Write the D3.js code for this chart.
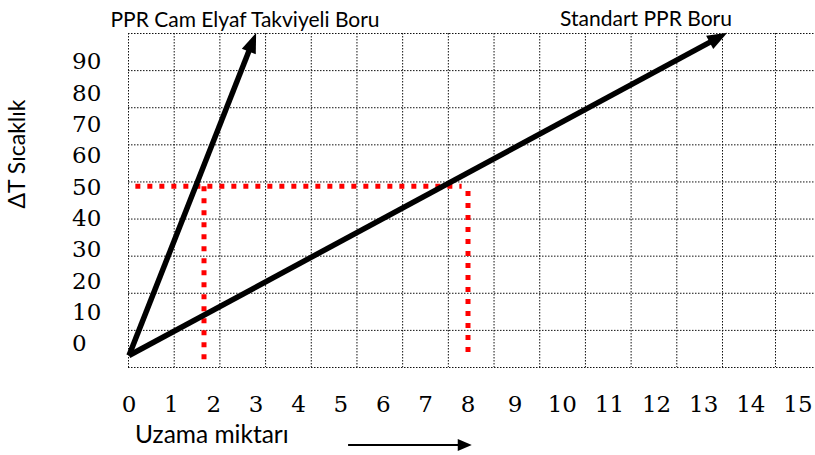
<!DOCTYPE html>
<html>
<head>
<meta charset="utf-8">
<script src="https://cdn.jsdelivr.net/npm/d3@7"></script>
<style>
  html, body { margin: 0; padding: 0; background: #fff; }
  svg { display: block; }
  .label { font-family: Lato, 'Open Sans', sans-serif; fill: #000; }
  .tick-label { font-family: 'DejaVu Serif', serif; font-size: 23px; fill: #000; }
</style>
</head>
<body>
<div id="chart"></div>
<script>
// ─── Daten ────────────────────────────────────────────────────────────────────

const xTickLabels = [0, 1, 2, 3, 4, 5, 6, 7, 8, 9, 10, 11, 12, 13, 14, 15];
const yTickLabels = [0, 10, 20, 30, 40, 50, 60, 70, 80, 90];

// Geraden (Uzama miktarı, ΔT)
const glassFiber = [{ x: 0, y: -4 }, { x: 3.0,  y: 99 }];
const standard   = [{ x: 0, y: -4 }, { x: 13.5, y: 99 }];

// rote Hilfslinien bei ΔT = 50
const refHorizontal = [{ x: 0.15, y: 50 },   { x: 7.85, y: 50 }];
const refGlassDrop  = [{ x: 1.77, y: 50 },   { x: 1.77, y: -6.5 }];
const refStdDrop    = [{ x: 8,    y: 48.5 }, { x: 8,    y: -4.5 }];

const gridCols = d3.range(15);
const gridRows = d3.range(10);

// ─── SVG ──────────────────────────────────────────────────────────────────────

const width  = 815;
const height = 455;

const svg = d3.select('#chart')
  .append('svg')
  .attr('width',  width)
  .attr('height', height);

// Skalen: Beschriftung ist im Original ungleichmäßig gesetzt → stückweise linear
const xScale = d3.scaleLinear().domain([0, 8, 15]).range([129, 468, 798]);
const yScale = d3.scaleLinear().domain([0, 90]).range([343, 61]);

// Raster (Tabelle im Hintergrund)
const gridX = d3.scaleLinear().domain([0, 13, 14]).range([128, 722, 775]);
const gridY = d3.scaleLinear().domain([0, 9]).range([367, 33]);

const grid = svg.append('g').attr('class', 'grid');

grid.selectAll('line.v')
  .data(gridCols)
  .enter()
  .append('line')
  .attr('class',            'v')
  .attr('x1',               d => gridX(d) + 0.5)
  .attr('x2',               d => gridX(d) + 0.5)
  .attr('y1',               gridY(9))
  .attr('y2',               gridY(0))
  .attr('stroke',           '#111')
  .attr('stroke-width',     1)
  .attr('stroke-dasharray', '1.5 1.5');

grid.selectAll('line.h')
  .data(gridRows)
  .enter()
  .append('line')
  .attr('class',            'h')
  .attr('x1',               gridX(0))
  .attr('x2',               width)
  .attr('y1',               d => gridY(d) + 0.5)
  .attr('y2',               d => gridY(d) + 0.5)
  .attr('stroke',           '#111')
  .attr('stroke-width',     1)
  .attr('stroke-dasharray', '1.5 1.5');

// ─── Rote Hilfslinien ─────────────────────────────────────────────────────────

const line = d3.line()
  .x(d => xScale(d.x))
  .y(d => yScale(d.y));

svg.selectAll('path.ref')
  .data([refHorizontal, refGlassDrop, refStdDrop])
  .enter()
  .append('path')
  .attr('class',            'ref')
  .attr('d',                line)
  .attr('fill',             'none')
  .attr('stroke',           '#ff0000')
  .attr('stroke-width',     5)
  .attr('stroke-dasharray', '5 7');

// ─── Geraden mit Pfeilspitzen ─────────────────────────────────────────────────

function arrow(g, data, sw, headLen, headW) {
  const [p0, p1] = data.map(d => [xScale(d.x), yScale(d.y)]);
  const dx = p1[0] - p0[0];
  const dy = p1[1] - p0[1];
  const len = Math.hypot(dx, dy);
  const ux = dx / len, uy = dy / len;
  const bx = p1[0] - ux * headLen, by = p1[1] - uy * headLen;

  g.append('line')
    .attr('x1',             p0[0])
    .attr('y1',             p0[1])
    .attr('x2',             bx + ux * 2)
    .attr('y2',             by + uy * 2)
    .attr('stroke',         '#000')
    .attr('stroke-width',   sw)
    .attr('stroke-linecap', 'butt');

  g.append('path')
    .attr('d', `M${p1[0]},${p1[1]}
                L${bx - uy * headW / 2},${by + ux * headW / 2}
                L${bx + uy * headW / 2},${by - ux * headW / 2}Z`)
    .attr('fill', '#000');
}

const lines = svg.append('g');
arrow(lines, glassFiber, 5.5, 20, 15);
arrow(lines, standard,   5.5, 20, 15);

// ─── Achsenbeschriftung ───────────────────────────────────────────────────────

svg.selectAll('text.xtick')
  .data(xTickLabels)
  .enter()
  .append('text')
  .attr('class',       'tick-label xtick')
  .attr('x',           d => xScale(d))
  .attr('y',           412)
  .attr('text-anchor', 'middle')
  .text(d => d);

svg.selectAll('text.ytick')
  .data(yTickLabels)
  .enter()
  .append('text')
  .attr('class',       'tick-label ytick')
  .attr('x',           72)
  .attr('y',           d => yScale(d))
  .attr('dy',          '0.36em')
  .text(d => d);

svg.append('text')
  .attr('class',       'label')
  .attr('x',           245)
  .attr('y',           27)
  .attr('text-anchor', 'middle')
  .style('font-size',  '21px')
  .text('PPR Cam Elyaf Takviyeli Boru');

svg.append('text')
  .attr('class',       'label')
  .attr('x',           646)
  .attr('y',           26)
  .attr('text-anchor', 'middle')
  .style('font-size',  '21px')
  .text('Standart PPR Boru');

svg.append('text')
  .attr('class',       'label')
  .attr('transform',   'translate(25,154) rotate(-90)')
  .attr('text-anchor', 'middle')
  .style('font-size',  '23px')
  .text('ΔT Sıcaklık');

svg.append('text')
  .attr('class',       'label')
  .attr('x',           135)
  .attr('y',           443)
  .style('font-size',  '24.5px')
  .text('Uzama miktarı');

// Pfeil unter der x-Achse
const ax0 = xScale(5.17), ax1 = xScale(8.08), ay = 445;
svg.append('line')
  .attr('x1',           ax0)
  .attr('x2',           ax1 - 12)
  .attr('y1',           ay)
  .attr('y2',           ay)
  .attr('stroke',       '#000')
  .attr('stroke-width', 2);

svg.append('path')
  .attr('d',    `M${ax1},${ay} L${ax1 - 14},${ay - 6} L${ax1 - 14},${ay + 6}Z`)
  .attr('fill', '#000');
</script>
</body>
</html>
